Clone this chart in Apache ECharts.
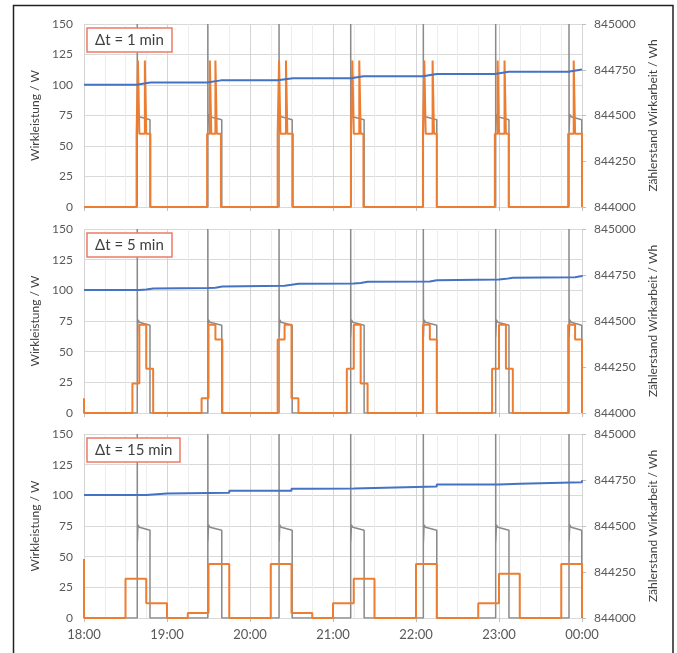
<!DOCTYPE html>
<html><head><meta charset="utf-8">
<script src="https://cdn.jsdelivr.net/npm/echarts@6/dist/echarts.min.js"></script>
<style>html,body{margin:0;padding:0;background:#fff}#c{width:677px;height:653px}</style>
</head><body><div id="c"></div>
<script>
// x values are minutes after 18:00
const xTickLabels = ['18:00','19:00','20:00','21:00','22:00','23:00','00:00'];
const panelLabels = ['\u0394t = 1 min','\u0394t = 5 min','\u0394t = 15 min'];
const leftAxisName = 'Wirkleistung / W';
const rightAxisName = 'Z\u00e4hlerstand Wirkarbeit / Wh';

// measured raw power (grey), same in all panels
const grayT = [0,
  38.5,38.5,38.6,39,40,47.7,47.7,
  89.5,89.5,89.6,90,91,99.6,99.6,
  141,141,141.1,141.5,142.5,150.5,150.5,
  192.8,192.8,192.9,193.3,194.3,202.5,202.5,
  245.3,245.3,245.4,245.8,246.8,255,255,
  297.6,297.6,297.7,298.1,299.1,307.2,307.2,
  350.6,350.6,350.7,351.1,352.1,359.8,359.8,
  360];
const grayW = [0,
  0,150,62,76,74,71.5,0,
  0,150,62,76,74,71.5,0,
  0,150,62,76,74,71.5,0,
  0,150,62,76,74,71.5,0,
  0,150,62,76,74,71.5,0,
  0,150,62,76,74,71.5,0,
  0,150,62,76,74,71.5,0,
  0];

// averaged power (orange), step breakpoints
const p1PowerT = [0,38,39,40,44,45,48, 89,91,92,95,96,99, 140,141,142,146,147,151, 193,194,195,199,200,202, 245,246,247,252,253,255, 297,299,300,304,305,307, 350,354,355,360];
const p1PowerW = [0,60,120,60,120,60,0, 60,120,60,120,60,0, 60,120,60,120,60,0, 60,120,60,120,60,0, 60,120,60,120,60,0, 60,120,60,120,60,0, 60,120,60,0];
const p2PowerT = [0,0,35,40,45,50, 85,90,95,100, 140,145,150,155, 190,195,200,205, 245,250,255, 295,300,305,310, 350,355,360];
const p2PowerW = [12,0,24,72,36,0, 12,72,60,0, 60,72,12,0, 36,72,24,0, 72,60,0, 36,72,36,0, 72,60,0];
const p3PowerT = [0,0,30,45,60,75,90,105,135,150,165,180,195,210,240,255,285,300,315,345,360];
const p3PowerW = [48,0,32,12,0,4,44,0,44,4,0,12,32,0,44,0,12,36,0,44,0];

// meter reading (blue)
const p1MeterT = [0,38,48,89,99,140,151,193,202,245,255,297,307,350,360];
const p1MeterWh = [844668,844668,844680,844680,844692,844692,844704,844704,844715,844715,844727,844727,844739,844739,844751];
const p2MeterT = [0,40,45,50,90,95,100,145,150,155,195,200,205,250,255,300,305,310,355,360];
const p2MeterWh = [844669,844671,844677,844680,844681,844687,844692,844697,844703,844704,844707,844713,844715,844721,844726,844729,844735,844738,844744,844749];
const p3MeterT = [0,45,60,90,105,150,165,195,210,255,300,315,360];
const p3MeterWh = [844669,844677,844680,844681,844692,844703,844704,844707,844715,844726,844729,844738,844749];

const powerT = [p1PowerT,p2PowerT,p3PowerT];
const powerW = [p1PowerW,p2PowerW,p3PowerW];
const meterT = [p1MeterT,p2MeterT,p3MeterT];
const meterWh = [p1MeterWh,p2MeterWh,p3MeterWh];
const meterStep = [false,'end','end'];

const FONT = 'Lato';
const zip = (a,b) => a.map((v,i) => [v,b[i]]);
const gridPos = [{top:24,height:183},{top:229,height:184},{top:434,height:184}];

const option = {
  animation:false,
  backgroundColor:'#fff',
  textStyle:{fontFamily:FONT},
  grid:[], xAxis:[], yAxis:[], series:[], title:[],
  graphic:[{type:'rect',shape:{x:13.5,y:5.5,width:659.5,height:700},style:{fill:'none',stroke:'#222',lineWidth:1.5},silent:true}]
};

for (let i=0;i<3;i++){
  option.grid.push({left:84,width:498,top:gridPos[i].top,height:gridPos[i].height});
  option.xAxis.push({
    type:'value',gridIndex:i,min:0,max:360,interval:60,
    axisLine:{show:false},
    axisTick:{show:true,length:4,lineStyle:{color:'#bfbfbf'}},
    axisLabel:{show:i===2,margin:10,color:'#595959',fontSize:13,fontFamily:FONT,
      formatter:v=>xTickLabels[Math.round(v/60)]},
    splitLine:{show:true,lineStyle:{color:'#d4d4d4',width:1}},
    minorTick:{show:false,splitNumber:4},
    minorSplitLine:{show:true,lineStyle:{color:'#ececec',width:1}}
  });
  option.yAxis.push({
    type:'value',gridIndex:i,min:0,max:150,interval:25,
    name:leftAxisName,nameLocation:'middle',nameGap:37,nameRotate:90,
    nameTextStyle:{color:'#404040',fontSize:12,fontFamily:FONT},
    axisLine:{show:false},axisTick:{show:false},
    axisLabel:{margin:11,color:'#595959',fontSize:12,fontFamily:FONT},
    splitLine:{show:true,lineStyle:{color:'#d9d9d9',width:1}}
  });
  option.yAxis.push({
    type:'value',gridIndex:i,position:'right',min:844000,max:845000,interval:250,
    name:rightAxisName,nameLocation:'middle',nameGap:60,nameRotate:90,
    nameTextStyle:{color:'#404040',fontSize:12,fontFamily:FONT},
    axisLine:{show:false},axisTick:{show:true,length:4,lineStyle:{color:'#bfbfbf'}},
    axisLabel:{margin:12,color:'#595959',fontSize:12,fontFamily:FONT,formatter:v=>String(v)},
    splitLine:{show:false}
  });
  option.series.push({
    type:'line',xAxisIndex:i,yAxisIndex:2*i,data:zip(grayT,grayW),
    showSymbol:false,lineStyle:{color:'#8a8a8a',width:1.5},z:2
  });
  option.series.push({
    type:'line',xAxisIndex:i,yAxisIndex:2*i,data:zip(powerT[i],powerW[i]),step:'end',
    showSymbol:false,lineStyle:{color:'#ED7D31',width:2},z:3
  });
  option.series.push({
    type:'line',xAxisIndex:i,yAxisIndex:2*i+1,data:zip(meterT[i],meterWh[i]),step:meterStep[i],
    showSymbol:false,lineStyle:{color:'#4472C4',width:2},z:4
  });
  option.title.push({
    text:panelLabels[i],left:87,top:gridPos[i].top+4,
    padding:[3,8,3,8],borderColor:'#EC7B66',borderWidth:1.5,backgroundColor:'#fff',
    textStyle:{color:'#404040',fontSize:15,fontWeight:'normal',fontFamily:FONT,lineHeight:18}
  });
}

const chart = echarts.init(document.getElementById('c'),null,{renderer:'canvas'});
chart.setOption(option);
</script></body></html>
